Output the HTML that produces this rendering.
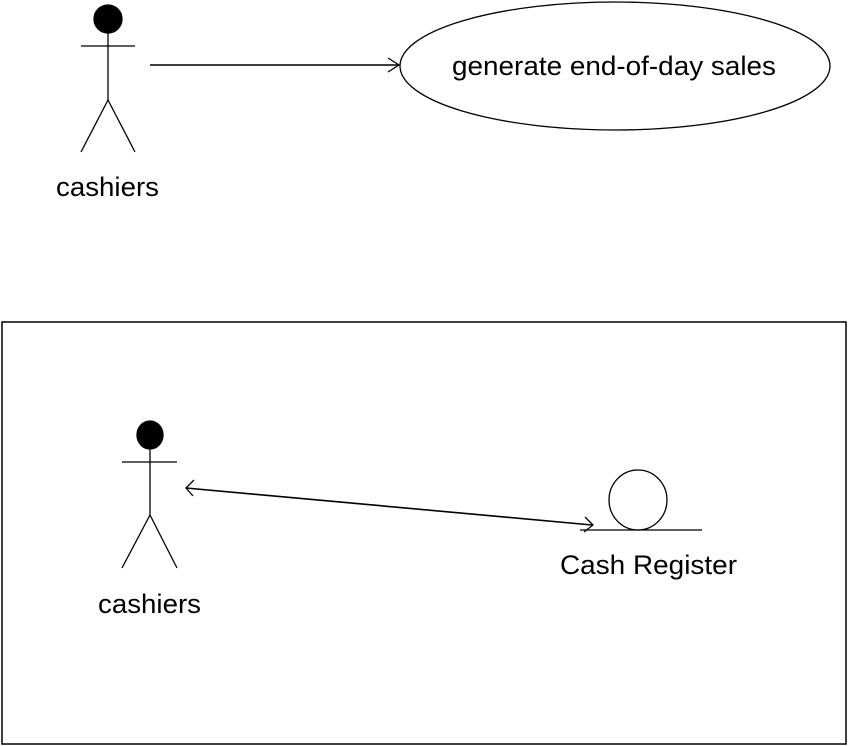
<!DOCTYPE html>
<html><head><meta charset="utf-8"><style>
html,body{margin:0;padding:0;background:#fff;}
svg{display:block;}
text{font-family:"Liberation Sans",Arial,sans-serif;font-size:27px;fill:#000;}
</style></head><body>
<svg width="848" height="746" viewBox="0 0 848 746" xmlns="http://www.w3.org/2000/svg">
<g stroke="#000" stroke-width="1.3" fill="none">
  <circle cx="108" cy="19" r="14" fill="#000"/>
  <line x1="108" y1="32" x2="108" y2="100"/>
  <line x1="81" y1="46" x2="135" y2="46"/>
  <line x1="108" y1="100" x2="81" y2="152"/>
  <line x1="108" y1="100" x2="135" y2="152"/>
  <line x1="150" y1="65" x2="399" y2="65" stroke-width="1.6"/>
  <polyline points="388,58 399,65 388,72"/>
  <ellipse cx="615" cy="66" rx="215" ry="64"/>
  <rect x="2" y="322" width="844" height="422" stroke-width="1.5"/>
  <ellipse cx="150" cy="435" rx="13" ry="14" fill="#000"/>
  <line x1="150" y1="449" x2="150" y2="515"/>
  <line x1="122" y1="462" x2="177" y2="462"/>
  <line x1="150" y1="515" x2="122" y2="568"/>
  <line x1="150" y1="515" x2="177" y2="568"/>
  <line x1="186" y1="488" x2="592" y2="525" stroke-width="1.6"/>
  <polyline points="194,480 186,488 193,496"/>
  <polyline points="585,517 593,525 584,532"/>
  <ellipse cx="638" cy="500" rx="29" ry="30"/>
  <line x1="580" y1="530" x2="702" y2="530"/>
</g>
<text x="56" y="196" textLength="103" lengthAdjust="spacingAndGlyphs">cashiers</text>
<text x="452" y="75" textLength="324" lengthAdjust="spacingAndGlyphs">generate end-of-day sales</text>
<text x="98" y="613" textLength="103" lengthAdjust="spacingAndGlyphs">cashiers</text>
<text x="560" y="574" textLength="177" lengthAdjust="spacingAndGlyphs">Cash Register</text>
</svg>
</body></html>
